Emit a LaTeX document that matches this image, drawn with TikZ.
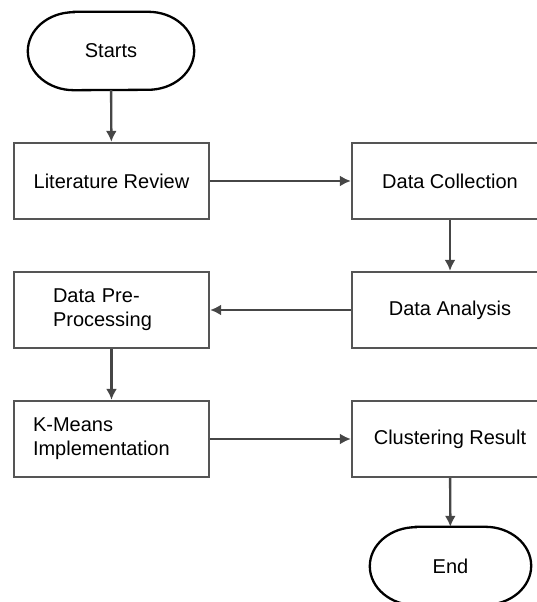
\documentclass[tikz,border=0pt]{standalone}
\usepackage{fontspec}
\setmainfont{Liberation Sans}
\usetikzlibrary{arrows.meta}
\definecolor{boxline}{RGB}{85,85,85}
\definecolor{arrowline}{RGB}{70,70,70}
\begin{document}
\begin{tikzpicture}[x=1pt,y=1pt,
  every node/.style={font=\fontsize{20}{24}\selectfont, text=black},
  procbox/.style={draw=boxline, line width=2.3pt, minimum width=195pt, minimum height=76pt, inner sep=0pt, align=center},
  leftbox/.style={draw=boxline, line width=2.3pt, minimum height=76pt, inner ysep=0pt, inner xsep=#1, text width=195pt-2*#1, align=left},
  termnode/.style={minimum width=#1, minimum height=78pt, inner sep=0pt},
  termline/.style={draw=black, line width=2.3pt},
  flow/.style={draw=arrowline, line width=2.4pt, -{Latex[length=11pt,width=11pt]}}
]
\path[use as bounding box] (0,0) rectangle (537,602);
\clip (0,0) rectangle (537,602);

% terminals
\node[termnode=166pt] (s) at (111,551) {Starts};
\draw[termline] ([xshift=46pt]s.north west) -- ([xshift=-46pt]s.north east)
  arc[start angle=90, end angle=-90, x radius=46pt, y radius=39pt]
  -- ([xshift=46pt]s.south west)
  arc[start angle=270, end angle=90, x radius=46pt, y radius=39pt] -- cycle;

\node[termnode=161pt] (e) at (450.5,36) {End};
\draw[termline] ([xshift=46pt]e.north west) -- ([xshift=-46pt]e.north east)
  arc[start angle=90, end angle=-90, x radius=46pt, y radius=39pt]
  -- ([xshift=46pt]e.south west)
  arc[start angle=270, end angle=90, x radius=46pt, y radius=39pt] -- cycle;

% process boxes
\node[procbox] (lr) at (111.5,421) {Literature Review};
\node[procbox, minimum width=196pt] (dc) at (450,421) {Data Collection};
\node[procbox, minimum width=196pt] (da) at (450,292) {Data Analysis};
\node[leftbox=39pt] (dpp) at (111.5,292) {Data Pre-\\Processing};
\node[leftbox=19pt] (km) at (111.5,163) {K-Means\\Implementation};
\node[procbox, minimum width=196pt] (cr) at (450,163) {Clustering Result};

% connectors
\draw[flow] (s) -- (lr);
\draw[flow] (lr) -- (dc);
\draw[flow] (dc) -- (da);
\draw[flow] (da) -- (dpp);
\draw[flow] (dpp) -- (km);
\draw[flow] (km) -- (cr);
\draw[flow] (cr) -- (e);
\end{tikzpicture}
\end{document}
